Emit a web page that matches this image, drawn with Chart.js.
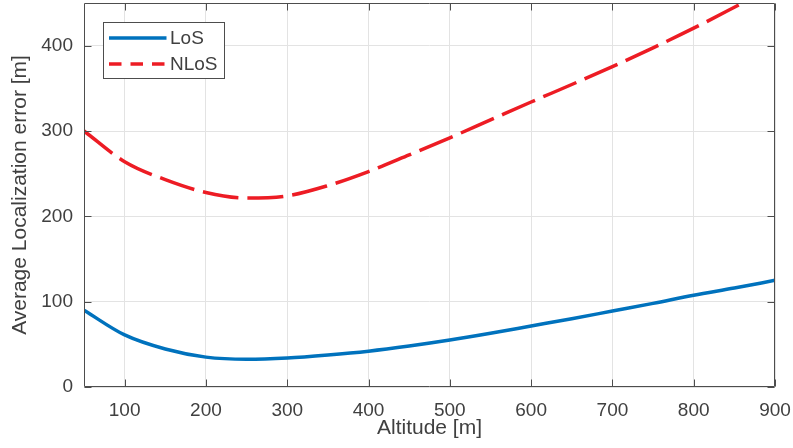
<!DOCTYPE html>
<html>
<head>
<meta charset="utf-8">
<script src="https://cdn.jsdelivr.net/npm/chart.js@4.4.1/dist/chart.umd.min.js"></script>
<style>
  html, body { margin: 0; padding: 0; background: #ffffff; }
  #wrap { width: 793px; height: 448px; }
</style>
</head>
<body>
<div id="wrap"><canvas id="c" width="793" height="448"></canvas></div>
<script>
// Altitude samples [m]
const altitude = [50, 100, 150, 200, 250, 300, 350, 400, 450, 500, 550, 600, 650, 700, 750, 800, 850, 900];
// Average localization error [m], line-of-sight
const losError = [90, 61, 44.5, 35, 32.5, 34, 37.5, 42, 48, 55, 63, 71.5, 80, 89, 98, 107.5, 116, 125];
// Average localization error [m], non-line-of-sight
const nlosError = [300, 264, 243, 228, 221.5, 224, 236, 252.5, 272, 292, 313, 334, 354.5, 375.5, 397.5, 420.5, 445, 470];

const xTickValues = [100, 200, 300, 400, 500, 600, 700, 800, 900];
const yTickValues = [0, 100, 200, 300, 400];
const seriesNames = ['LoS', 'NLoS'];

const TEXT = '#404040';
const AXIS = '#4d4d4d';
const FONT = '"Liberation Sans", Arial, Helvetica, sans-serif';

const toPoints = (ys) => altitude.map((a, i) => ({ x: a, y: ys[i] }));

// Axes box with inward tick marks on all four sides
const framePlugin = {
  id: 'frame',
  afterDatasetsDraw(chart) {
    const { ctx, chartArea: a, scales: { x, y } } = chart;
    const L = Math.round(a.left) + 0.5, R = Math.round(a.right) - 0.5;
    const T = Math.round(a.top) + 0.5, B = Math.round(a.bottom) - 0.5;
    const len = 7;
    ctx.save();
    ctx.strokeStyle = AXIS;
    ctx.lineWidth = 1;
    ctx.beginPath();
    ctx.rect(L, T, R - L, B - T);
    x.ticks.forEach(t => {
      const px = Math.round(x.getPixelForValue(t.value)) + 0.5;
      ctx.moveTo(px, B); ctx.lineTo(px, B - len);
      ctx.moveTo(px, T); ctx.lineTo(px, T + len);
    });
    y.ticks.forEach(t => {
      const py = Math.round(y.getPixelForValue(t.value)) + 0.5;
      ctx.moveTo(L, py); ctx.lineTo(L + len, py);
      ctx.moveTo(R, py); ctx.lineTo(R - len, py);
    });
    ctx.stroke();
    ctx.restore();
  }
};

// Boxed legend in the upper-left corner of the plot
const legendBoxPlugin = {
  id: 'legendBox',
  afterDraw(chart) {
    const { ctx, chartArea: a } = chart;
    const bx = a.left + 19.5, by = a.top + 19.5, bw = 121, bh = 56;
    ctx.save();
    ctx.fillStyle = '#ffffff';
    ctx.fillRect(bx, by, bw, bh);
    ctx.strokeStyle = AXIS;
    ctx.lineWidth = 1;
    ctx.strokeRect(bx, by, bw, bh);
    const rows = [by + 15.5, by + 41.5];
    const dashes = [[], [12.5, 9]];
    chart.data.datasets.forEach((ds, i) => {
      const ry = rows[i];
      ctx.strokeStyle = ds.borderColor;
      ctx.lineWidth = ds.borderWidth;
      ctx.setLineDash(dashes[i]);
      ctx.beginPath();
      ctx.moveTo(bx + 5.5, ry);
      ctx.lineTo(bx + 63, ry);
      ctx.stroke();
      ctx.setLineDash([]);
      ctx.fillStyle = TEXT;
      ctx.font = '19px ' + FONT;
      ctx.textBaseline = 'middle';
      ctx.textAlign = 'left';
      ctx.fillText(ds.label, bx + 66.5, ry + 1);
    });
    ctx.restore();
  }
};

new Chart(document.getElementById('c'), {
  type: 'line',
  data: {
    datasets: [
      {
        label: seriesNames[0],
        data: toPoints(losError),
        borderColor: '#0072BD',
        borderWidth: 3.5,
        pointRadius: 0,
        cubicInterpolationMode: 'monotone',
        fill: false
      },
      {
        label: seriesNames[1],
        data: toPoints(nlosError),
        borderColor: '#ED1C24',
        borderWidth: 3.5,
        borderDash: [36, 9],
        pointRadius: 0,
        cubicInterpolationMode: 'monotone',
        fill: false
      }
    ]
  },
  options: {
    responsive: false,
    animation: false,
    events: [],
    layout: { padding: { top: 3, right: 18, left: 0, bottom: 0 } },
    plugins: {
      legend: { display: false },
      tooltip: { enabled: false },
      title: { display: false }
    },
    scales: {
      x: {
        type: 'linear',
        min: 50,
        max: 900,
        afterBuildTicks: (s) => { s.ticks = xTickValues.map(v => ({ value: v })); },
        afterFit: (s) => { s.height = 61; s.paddingLeft = 0; s.paddingRight = 0; },
        grid: { color: '#e3e3e3', lineWidth: 1, drawTicks: false },
        border: { display: false },
        ticks: {
          color: TEXT,
          font: { family: FONT, size: 19 },
          padding: 12,
          maxRotation: 0,
          autoSkip: false
        },
        title: {
          display: true,
          text: 'Altitude [m]',
          color: TEXT,
          font: { family: FONT, size: 21 },
          padding: { top: 0, bottom: 7.4 }
        }
      },
      y: {
        type: 'linear',
        min: 0,
        max: 450,
        afterBuildTicks: (s) => { s.ticks = yTickValues.map(v => ({ value: v })); },
        afterFit: (s) => { s.width = 84; s.paddingTop = 0; s.paddingBottom = 0; },
        grid: { color: '#e3e3e3', lineWidth: 1, drawTicks: false },
        border: { display: false },
        ticks: {
          color: TEXT,
          font: { family: FONT, size: 19 },
          padding: 11,
          autoSkip: false
        },
        title: {
          display: true,
          text: 'Average Localization error [m]',
          color: TEXT,
          font: { family: FONT, size: 21 },
          padding: { top: 8, bottom: 0 }
        }
      }
    }
  },
  plugins: [framePlugin, legendBoxPlugin]
});
</script>
</body>
</html>
